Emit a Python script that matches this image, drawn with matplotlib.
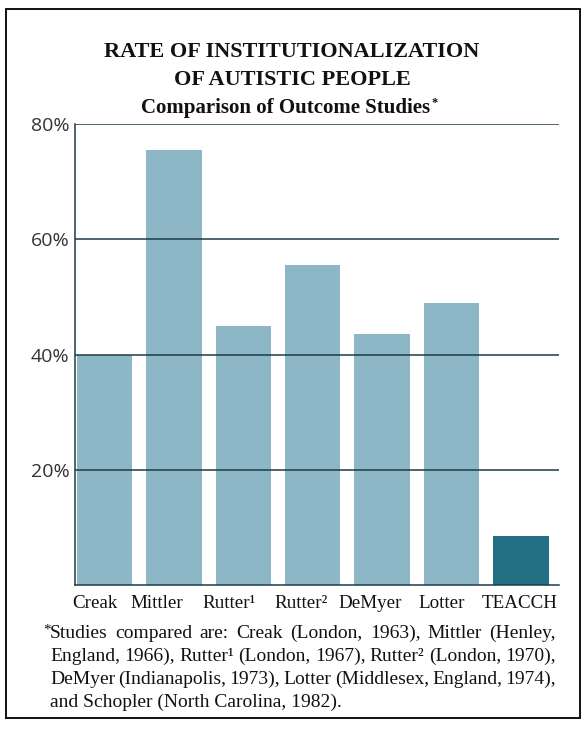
import numpy as np
import matplotlib
matplotlib.use('Agg')
import matplotlib.pyplot as plt
import matplotlib.transforms as mtransforms
from matplotlib.patches import Rectangle

# values (percent institutionalized)
studies = ['Creak', 'Mittler', 'Rutter\u00b9', 'Rutter\u00b2', 'DeMyer', 'Lotter', 'TEACCH']
rates = [40, 75.5, 45, 55.5, 43.5, 49, 8.5]
yticks = [20, 40, 60, 80]
ytick_labels = ['20%', '40%', '60%', '80%']

W, H = 588, 729
serif = ['Liberation Serif', 'DejaVu Serif']
sans = ['Open Sans', 'DejaVu Sans']
light = '#8db6c6'
dark = '#226f84'
line_col = '#1d3c46'
ink = '#111111'

fig = plt.figure(figsize=(W / 100, H / 100), dpi=100)
renderer = fig.canvas.get_renderer()

def px(x, y):
    return x / W, 1 - y / H

# outer frame
fig.patches.append(Rectangle(px(6, 718), 574 / W, 709 / H, transform=fig.transFigure,
                             fill=False, edgecolor=ink, linewidth=1.4))

## the bars
ax = fig.add_axes([75 / W, 1 - 585 / H, 484 / W, 461 / H])
x = np.arange(len(studies))
colors = [light] * (len(studies) - 1) + [dark]
ax.bar(x, rates, width=0.8, color=colors, zorder=1)
for v in yticks:
    ax.axhline(v, color=line_col, linewidth=1.1, zorder=3)
ax.set_xlim(-0.425, 6.55)
ax.set_ylim(0, 80)

for s in ['top', 'right']:
    ax.spines[s].set_visible(False)
for s in ['left', 'bottom']:
    ax.spines[s].set_color(line_col)
    ax.spines[s].set_linewidth(1.1)
    ax.spines[s].set_zorder(4)

ax.set_yticks(yticks)
ax.set_yticklabels(ytick_labels, family=sans, fontsize=14, color='#333333')
ax.set_xticks(x)
ax.set_xticklabels(studies, family=serif, fontsize=13.7, color=ink)
ax.tick_params(axis='both', length=0)
ax.tick_params(axis='y', pad=4)
ax.tick_params(axis='x', pad=7)
# the printed labels sit a little left of their bars
shifts = [-10, -17, -14, -11.5, -11.5, -10, -1.5]
for lab, dx in zip(ax.get_xticklabels(), shifts):
    lab.set_transform(lab.get_transform() +
                      mtransforms.ScaledTranslation(dx / 100, 0, fig.dpi_scale_trans))

## titles
fig.text(*px(292, 57), 'RATE OF INSTITUTIONALIZATION', family=serif, fontweight='bold',
         fontsize=16, ha='center', va='baseline', color=ink)
fig.text(*px(292, 85), 'OF AUTISTIC PEOPLE', family=serif, fontweight='bold',
         fontsize=16, ha='center', va='baseline', color=ink)
sub = fig.text(*px(286, 113), 'Comparison of Outcome Studies', family=serif, fontweight='bold',
               fontsize=15, ha='center', va='baseline', color=ink)
bb = sub.get_window_extent(renderer)
fig.text((bb.x1 + 1) / W, (bb.y1 - 5) / H, '*', family=serif, fontweight='bold', fontsize=9,
         ha='left', va='center', color=ink)

## footnote, set justified like the print
notes = [
    'Studies compared are: Creak (London, 1963), Mittler (Henley,',
    'England, 1966), Rutter\u00b9 (London, 1967), Rutter\u00b2 (London, 1970),',
    'DeMyer (Indianapolis, 1973), Lotter (Middlesex, England, 1974),',
    'and Schopler (North Carolina, 1982).',
]
right = 556
fig.text(*px(43, 634), '*', family=serif, fontsize=11, ha='left', va='baseline', color=ink)
for i, line in enumerate(notes):
    y = 638 + 23 * i
    left = 50
    words = line.split(' ')
    if i == len(notes) - 1:
        fig.text(*px(left, y), line, family=serif, fontsize=14,
                 ha='left', va='baseline', color=ink)
        continue
    arts = [fig.text(0, 0, w, family=serif, fontsize=14, ha='left', va='baseline', color=ink)
            for w in words]
    widths = [a.get_window_extent(renderer).width for a in arts]
    gap = (right - left - sum(widths)) / (len(words) - 1)
    xx = left
    for a, w in zip(arts, widths):
        a.set_position(px(xx, y))
        xx += w + gap

plt.savefig('out.png', dpi=100)
